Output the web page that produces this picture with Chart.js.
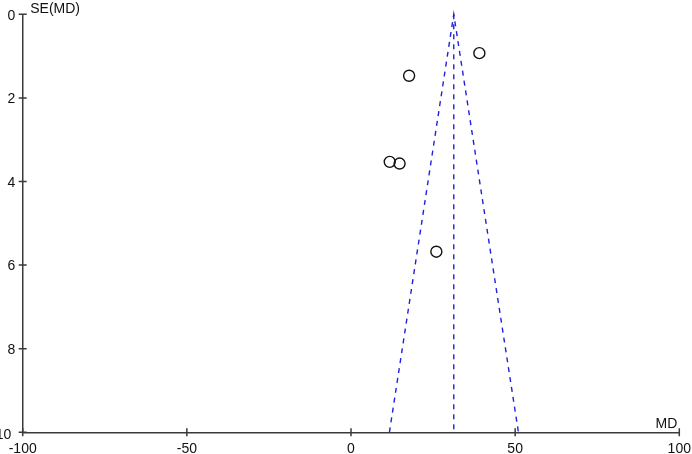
<!DOCTYPE html>
<html><head><meta charset="utf-8">
<script src="https://cdn.jsdelivr.net/npm/chart.js@4/dist/chart.umd.min.js"></script>
<style>html,body{margin:0;padding:0;background:#fff}#wrap{width:692px;height:454px}</style>
</head><body><div id="wrap"><canvas id="c" width="692" height="454"></canvas></div>
<script>
const studyMD = [39.1, 17.7, 11.8, 14.8, 26.0];
const studySE = [0.93, 1.47, 3.53, 3.57, 5.68];
const pooledMD = 31.3;
const funnelX = [11.7, 31.3, 51.0];
const funnelY = [10, 0, 10];
const xTicks = [-100, -50, 0, 50, 100];
const yTicks = [0, 2, 4, 6, 8, 10];
const xTitle = 'MD';
const yTitle = 'SE(MD)';

const AXIS = '#3a3a3a';
const BLUE = '#2020e0';
const TEXT = '#111';
const FONT = '"Liberation Sans", Arial, sans-serif';

const pts = studyMD.map((x, i) => ({x, y: studySE[i]}));
const funnel = funnelX.map((x, i) => ({x, y: funnelY[i]}));
const vline = [{x: pooledMD, y: 0}, {x: pooledMD, y: 10}];

const overlay = {
  id: 'overlay',
  afterDraw(chart) {
    const ctx = chart.ctx, xs = chart.scales.x, ys = chart.scales.y;
    const a = chart.chartArea;
    ctx.save();
    ctx.strokeStyle = AXIS; ctx.lineWidth = 1.5;
    ctx.beginPath();
    xTicks.forEach(v => { const p = xs.getPixelForValue(v); ctx.moveTo(p, a.bottom - 4); ctx.lineTo(p, a.bottom + 4); });
    yTicks.forEach(v => { const p = ys.getPixelForValue(v); ctx.moveTo(a.left - 4, p); ctx.lineTo(a.left + 4, p); });
    ctx.stroke();
    ctx.fillStyle = TEXT;
    ctx.font = '14px ' + FONT;
    // y tick labels
    ctx.textBaseline = 'middle';
    ctx.textAlign = 'right';
    yTicks.forEach(v => {
      const p = ys.getPixelForValue(v);
      const last = v === yTicks[yTicks.length - 1];
      ctx.fillText(String(v), last ? a.left - 11.5 : a.left - 7.5, last ? p + 3 : p + 1.5);
    });
    // x tick labels
    ctx.textAlign = 'center';
    ctx.textBaseline = 'alphabetic';
    xTicks.forEach(v => {
      const p = xs.getPixelForValue(v);
      ctx.fillText(String(v), p, a.bottom + 20.5);
    });
    // axis titles
    ctx.textAlign = 'left';
    ctx.fillText(yTitle, a.left + 7.5, ys.getPixelForValue(0) - 1.5);
    ctx.textAlign = 'right';
    ctx.fillText(xTitle, a.right - 2, a.bottom - 4.5);
    ctx.restore();
  }
};

new Chart(document.getElementById('c'), {
  type: 'scatter',
  data: {
    datasets: [
      {type: 'line', data: funnel, borderColor: BLUE, borderWidth: 1.4, borderDash: [5, 5], pointRadius: 0, fill: false, clip: false, tension: 0},
      {type: 'line', data: vline, borderColor: BLUE, borderWidth: 1.4, borderDash: [5, 5], pointRadius: 0, fill: false, clip: false},
      {data: pts, pointRadius: 5.5, pointHoverRadius: 5.5, pointBorderColor: '#111', pointBackgroundColor: 'rgba(255,255,255,0)', pointBorderWidth: 1.4, clip: false}
    ]
  },
  options: {
    responsive: false,
    animation: false,
    events: [],
    layout: {padding: {top: 14.3, right: 12.7, left: 0, bottom: 0}},
    plugins: {legend: {display: false}, tooltip: {enabled: false}},
    scales: {
      x: {
        type: 'linear', min: -100, max: 100,
        afterBuildTicks: s => { s.ticks = xTicks.map(v => ({value: v})); },
        afterFit: s => { s.height = 21.7; },
        grid: {display: true, drawOnChartArea: false, drawTicks: false},
        border: {display: true, color: AXIS, width: 1.5},
        ticks: {display: false}
      },
      y: {
        type: 'linear', min: 0, max: 10, reverse: true,
        afterBuildTicks: s => { s.ticks = yTicks.map(v => ({value: v})); },
        afterFit: s => { s.width = 22.7; },
        grid: {display: true, drawOnChartArea: false, drawTicks: false},
        border: {display: true, color: AXIS, width: 1.5},
        ticks: {display: false}
      }
    }
  },
  plugins: [overlay]
});
</script>
</body></html>
